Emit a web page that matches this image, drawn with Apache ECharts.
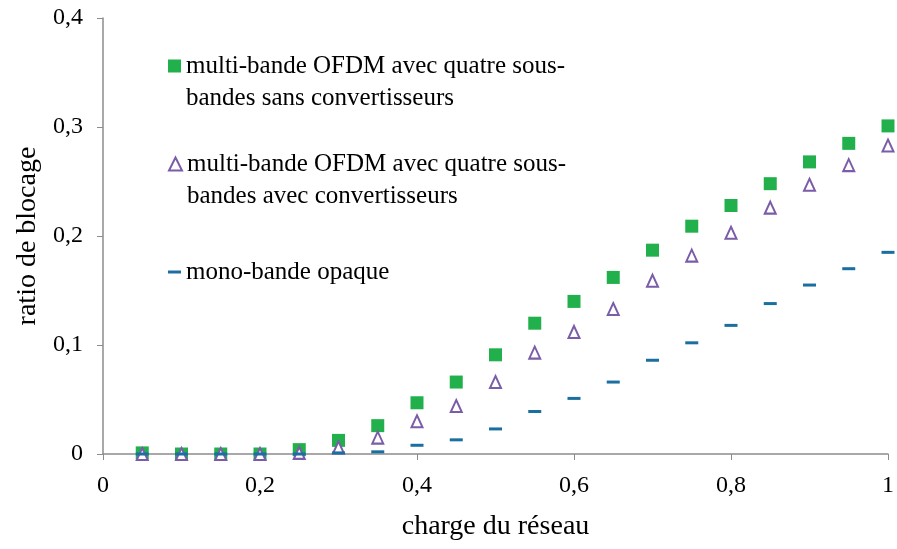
<!DOCTYPE html>
<html>
<head>
<meta charset="utf-8">
<script src="https://cdn.jsdelivr.net/npm/echarts@6/dist/echarts.min.js"></script>
<style>
  html, body { margin: 0; padding: 0; background: #fff; }
  #chart { width: 897px; height: 549px; }
</style>
</head>
<body>
<div id="chart"></div>
<script>
const loads = [0.05, 0.1, 0.15, 0.2, 0.25, 0.3, 0.35, 0.4, 0.45, 0.5,
  0.55, 0.6, 0.65, 0.7, 0.75, 0.8, 0.85, 0.9, 0.95, 1.0];

const sansConv = [0.001, 0, 0, 0, 0.004, 0.0125, 0.026, 0.047, 0.066, 0.091,
  0.120, 0.140, 0.162, 0.187, 0.209, 0.228, 0.248, 0.268, 0.285, 0.301];

const avecConv = [0, 0, 0, 0, 0.001, 0.006, 0.015, 0.030, 0.044, 0.066,
  0.093, 0.112, 0.133, 0.159, 0.182, 0.203, 0.226, 0.247, 0.265, 0.283];

const monoBande = [0, 0, 0, 0, 0, 0.001, 0.002, 0.008, 0.013, 0.023,
  0.039, 0.051, 0.066, 0.086, 0.102, 0.118, 0.138, 0.155, 0.170, 0.185];

const names = [
  "multi-bande OFDM avec quatre sous-\nbandes sans convertisseurs",
  "multi-bande OFDM avec quatre sous-\nbandes avec convertisseurs",
  "mono-bande opaque",
];

const font = "'Liberation Serif', 'Times New Roman', serif";
const axisGray = "#8c8c8c";

const pairs = (ys) => loads.map((x, i) => [x, ys[i]]);
const commaFmt = (v) => String(v).replace(".", ",");

const chart = echarts.init(document.getElementById("chart"));

const legendText = {
  fontFamily: font,
  fontSize: 25,
  color: "#000",
  lineHeight: 32,
};

// blank first line so the icon lines up with the first line of a two-line name
const twoLineFmt = (name) => " \n" + name;

chart.setOption({
  animation: false,
  textStyle: { fontFamily: font },
  grid: { left: 103, right: 5, top: 18, bottom: 95, containLabel: false },
  legend: [
    {
      left: 168,
      top: 18,
      padding: 0,
      itemWidth: 13,
      itemHeight: 13,
      formatter: twoLineFmt,
      data: [{ name: names[0] }],
      textStyle: legendText,
    },
    {
      left: 168,
      top: 116,
      padding: 0,
      itemWidth: 13,
      itemHeight: 13,
      formatter: twoLineFmt,
      data: [{ name: names[1] }],
      textStyle: legendText,
    },
    {
      left: 168,
      top: 256,
      padding: 0,
      itemWidth: 13,
      itemHeight: 3,
      data: [{ name: names[2] }],
      textStyle: legendText,
    },
  ],
  xAxis: {
    type: "value",
    min: 0,
    max: 1,
    interval: 0.2,
    name: "charge du réseau",
    nameLocation: "middle",
    nameGap: 59,
    nameTextStyle: { fontFamily: font, fontSize: 28, color: "#000" },
    axisLine: { lineStyle: { color: axisGray, width: 1.5 } },
    axisTick: { show: true, length: 6, lineStyle: { color: axisGray } },
    axisLabel: {
      fontFamily: font,
      fontSize: 24,
      color: "#000",
      margin: 20,
      formatter: commaFmt,
    },
    splitLine: { show: false },
  },
  yAxis: {
    type: "value",
    min: 0,
    max: 0.4,
    interval: 0.1,
    name: "ratio de blocage",
    nameLocation: "middle",
    nameGap: 60,
    nameTextStyle: { fontFamily: font, fontSize: 28, color: "#000" },
    axisLine: { show: true, lineStyle: { color: axisGray, width: 1.5 } },
    axisTick: { show: true, length: 6, lineStyle: { color: axisGray } },
    axisLabel: {
      fontFamily: font,
      fontSize: 24,
      color: "#000",
      margin: 20,
      formatter: commaFmt,
    },
    splitLine: { show: false },
  },
  series: [
    {
      name: names[0],
      type: "scatter",
      symbol: "rect",
      symbolSize: [13, 13],
      itemStyle: { color: "#21b04b", opacity: 1 },
      data: pairs(sansConv),
      z: 3,
    },
    {
      name: names[1],
      type: "scatter",
      symbol: "emptyTriangle",
      symbolSize: [11, 12],
      itemStyle: { color: "#7a5ca8", borderColor: "#7a5ca8", borderWidth: 1.5, opacity: 1 },
      data: pairs(avecConv),
      z: 4,
    },
    {
      name: names[2],
      type: "scatter",
      symbol: "rect",
      symbolSize: [13, 3],
      itemStyle: { color: "#1b6fa0", opacity: 1 },
      data: pairs(monoBande),
      z: 5,
    },
  ],
});
</script>
</body>
</html>
